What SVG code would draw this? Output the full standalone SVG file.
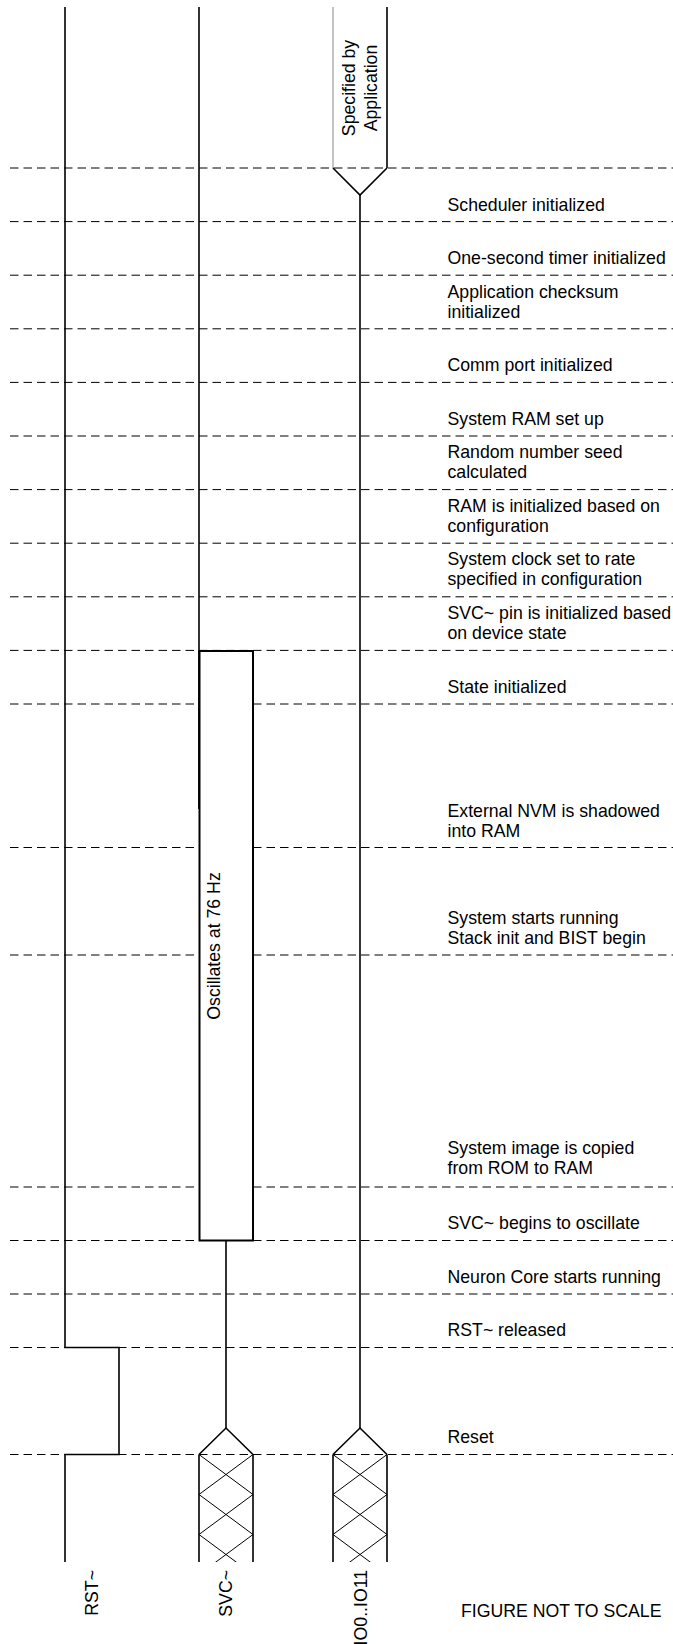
<svg xmlns="http://www.w3.org/2000/svg" width="673" height="1644" viewBox="0 0 673 1644">
<style>
  .grid line { stroke: #000; stroke-width: 1; stroke-dasharray: 8.5 5; }
  .lbl { font-family: "Liberation Sans", Arial, sans-serif; font-size: 17.7px; fill: #000; }
  .sig { fill: none; stroke: #000; stroke-width: 1.6; }
  .thin { fill: none; stroke: #000; stroke-width: 1; }
  .box { fill: #fff; stroke: #000; stroke-width: 2; }
</style>
<defs>
  <clipPath id="hclip"><rect x="-2" y="1454" width="60" height="108"/></clipPath>
  <g id="busend">
    <path class="sig" d="M0,1454.5 L27,1428 L54,1454.5"/>
    <path class="sig" d="M0,1454.5 V1562 M54,1454.5 V1562"/>
    <g clip-path="url(#hclip)">
      <path class="thin" d="M0,1454.5 L54,1494.5 L0,1534.5 L54,1574.5 M54,1454.5 L0,1494.5 L54,1534.5 L0,1574.5"/>
    </g>
  </g>
</defs>
<rect width="673" height="1644" fill="#fff"/>

<g id="grid" class="grid">
  <line x1="10" y1="168" x2="673" y2="168"/>
  <line x1="10" y1="221.6" x2="673" y2="221.6"/>
  <line x1="10" y1="275.2" x2="673" y2="275.2"/>
  <line x1="10" y1="328.8" x2="673" y2="328.8"/>
  <line x1="10" y1="382.4" x2="673" y2="382.4"/>
  <line x1="10" y1="436" x2="673" y2="436"/>
  <line x1="10" y1="489.6" x2="673" y2="489.6"/>
  <line x1="10" y1="543.2" x2="673" y2="543.2"/>
  <line x1="10" y1="596.8" x2="673" y2="596.8"/>
  <line x1="10" y1="650.4" x2="673" y2="650.4"/>
  <line x1="10" y1="704" x2="673" y2="704"/>
  <line x1="10" y1="847.5" x2="673" y2="847.5"/>
  <line x1="10" y1="955" x2="673" y2="955"/>
  <line x1="10" y1="1187" x2="673" y2="1187"/>
  <line x1="10" y1="1240.5" x2="673" y2="1240.5"/>
  <line x1="10" y1="1294" x2="673" y2="1294"/>
  <line x1="10" y1="1347.5" x2="673" y2="1347.5"/>
  <line x1="10" y1="1454.5" x2="673" y2="1454.5"/>
</g>

<g id="sig-rst">
  <path class="sig" d="M65,7 V1347.5 H119 V1454.5 H65 V1562"/>
  <text class="lbl" text-anchor="end" transform="translate(98,1570) rotate(-90)">RST~</text>
</g>

<g id="sig-svc">
  <path class="sig" d="M199,7 V651"/>
  <rect class="box" x="199.5" y="651" width="53.5" height="589.5"/>
  <path class="thin" d="M198.6,651 V809"/>
  <text class="lbl" text-anchor="middle" transform="translate(220,946) rotate(-90)">Oscillates at 76 Hz</text>
  <path class="sig" d="M226,1240.5 V1428"/>
  <use href="#busend" transform="translate(199,0)"/>
  <text class="lbl" text-anchor="end" transform="translate(232,1570) rotate(-90)">SVC~</text>
</g>

<g id="sig-io">
  <path d="M333,7 V168" fill="none" stroke="#888" stroke-width="1"/>
  <path class="sig" d="M387,7 V168"/>
  <path class="sig" d="M333,168 L360,195 L387,168"/>
  <text class="lbl" text-anchor="middle" transform="translate(355,88) rotate(-90)">Specified by</text>
  <text class="lbl" text-anchor="middle" transform="translate(377,88) rotate(-90)">Application</text>
  <path class="sig" d="M360,195 V1428"/>
  <use href="#busend" transform="translate(333,0)"/>
  <text class="lbl" text-anchor="end" transform="translate(367,1570) rotate(-90)">IO0..IO11</text>
</g>

<g id="labels" class="lbl">
  <text x="447.5" y="211">Scheduler initialized</text>
  <text x="447.5" y="264">One-second timer initialized</text>
  <text x="447.5" y="297.5">Application checksum</text>
  <text x="447.5" y="317.5">initialized</text>
  <text x="447.5" y="371">Comm port initialized</text>
  <text x="447.5" y="424.5">System RAM set up</text>
  <text x="447.5" y="458">Random number seed</text>
  <text x="447.5" y="478">calculated</text>
  <text x="447.5" y="511.5">RAM is initialized based on</text>
  <text x="447.5" y="531.5">configuration</text>
  <text x="447.5" y="565">System clock set to rate</text>
  <text x="447.5" y="585">specified in configuration</text>
  <text x="447.5" y="618.5">SVC~ pin is initialized based</text>
  <text x="447.5" y="638.5">on device state</text>
  <text x="447.5" y="692.5">State initialized</text>
  <text x="447.5" y="816.5">External NVM is shadowed</text>
  <text x="447.5" y="836.5">into RAM</text>
  <text x="447.5" y="924">System starts running</text>
  <text x="447.5" y="944">Stack init and BIST begin</text>
  <text x="447.5" y="1153.5">System image is copied</text>
  <text x="447.5" y="1173.5">from ROM to RAM</text>
  <text x="447.5" y="1229">SVC~ begins to oscillate</text>
  <text x="447.5" y="1282.5">Neuron Core starts running</text>
  <text x="447.5" y="1336">RST~ released</text>
  <text x="447.5" y="1443">Reset</text>
  <text x="461" y="1617">FIGURE NOT TO SCALE</text>
</g>
</svg>
